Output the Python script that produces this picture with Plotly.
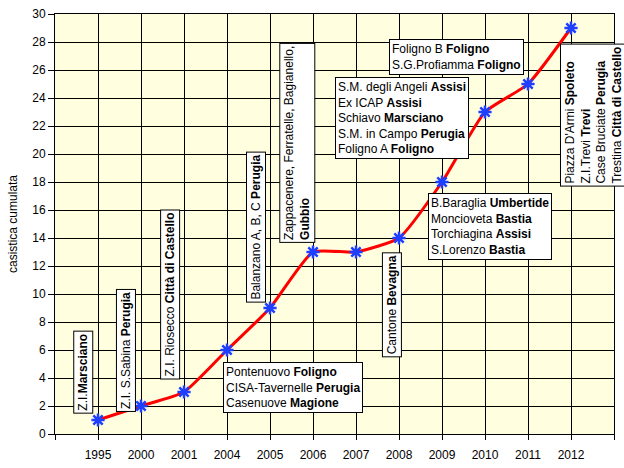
import plotly.graph_objects as go

years = ["1995", "2000", "2001", "2004", "2005", "2006", "2007", "2008", "2009", "2010", "2011", "2012"]
cumulative = [1, 2, 3, 6, 9, 13, 13, 14, 18, 23, 25, 29]

labels = [
    "Z.I.<b>Marsciano</b>",
    "Z.I. S.Sabina <b>Perugia</b>",
    "Z.I. Riosecco <b>Città di Castello</b>",
    "Balanzano A, B, C <b>Perugia</b>",
    "Zappacenere, Ferratelle, Bagianello,<br><b>Gubbio</b>",
    "Pontenuovo <b>Foligno</b><br>CISA-Tavernelle <b>Perugia</b><br>Casenuove <b>Magione</b>",
    "Cantone <b>Bevagna</b>",
    "S.M. degli Angeli <b>Assisi</b><br>Ex ICAP <b>Assisi</b><br>Schiavo <b>Marsciano</b><br>S.M. in Campo <b>Perugia</b><br>Foligno A <b>Foligno</b>",
    "Foligno B <b>Foligno</b><br>S.G.Profiamma <b>Foligno</b>",
    "B.Baraglia <b>Umbertide</b><br>Moncioveta <b>Bastia</b><br>Torchiagina <b>Assisi</b><br>S.Lorenzo <b>Bastia</b>",
    "Piazza D'Armi <b>Spoleto</b><br>Z.I.Trevi <b>Trevi</b><br>Case Bruciate <b>Perugia</b><br>Trestina <b>Città di Castello</b>",
]
# label placement (x in category index, y in data units, rotation)
label_pos = [
    (-0.35, 4.45, -90),
    (0.65, 6.0, -90),
    (1.67, 9.95, -90),
    (3.67, 14.8, -90),
    (4.63, 20.8, -90),
    (4.53, 3.3, 0),
    (6.84, 9.2, -90),
    (7.07, 22.6, 0),
    (8.33, 26.9, 0),
    (9.12, 14.8, 0),
    (11.53, 22.8, -90),
]

FONT = "Arial, Liberation Sans, sans-serif"
idx = list(range(len(years)))

fig = go.Figure()
fig.add_trace(go.Scatter(
    x=idx, y=cumulative, mode="lines+markers",
    line=dict(color="#FF0000", width=3, shape="spline", smoothing=0.5),
    marker=dict(symbol="asterisk-open", size=11, color="#1F3FFF",
                line=dict(color="#1F3FFF", width=2.5)),
    showlegend=False, hoverinfo="skip",
))

for txt, (ax, ay, ang) in zip(labels, label_pos):
    fig.add_annotation(
        x=ax, y=ay, xref="x", yref="y", text=txt, showarrow=False,
        textangle=ang, align="left", xanchor="center", yanchor="middle",
        font=dict(family=FONT, size=12, color="black"),
        bgcolor="white", bordercolor="black", borderwidth=1, borderpad=2,
    )

tickvals = [-1] + idx + [len(years)]
ticktext = [""] + years + [""]

fig.update_layout(
    width=624, height=468,
    margin=dict(l=55, r=10, t=14, b=34),
    paper_bgcolor="white", plot_bgcolor="#FFFFE0",
    font=dict(family=FONT, size=12, color="black"),
    xaxis=dict(
        range=[-1, len(years)], tickvals=tickvals, ticktext=ticktext,
        showgrid=True, gridcolor="black", gridwidth=1,
        showline=True, linecolor="black", linewidth=1, mirror=True,
        ticks="outside", ticklen=5, tickcolor="black",
        ticklabelstandoff=5, zeroline=False, automargin=False,
        tickfont=dict(family=FONT, size=12),
    ),
    yaxis=dict(
        range=[0, 30], dtick=2, tick0=0, automargin=False,
        showgrid=True, gridcolor="black", gridwidth=1,
        showline=True, linecolor="black", linewidth=1, mirror=True,
        ticks="outside", ticklen=6, tickcolor="black", zeroline=False,
        tickfont=dict(family=FONT, size=12),
        title=dict(text="casistica cumulata", font=dict(family=FONT, size=12), standoff=12),
    ),
)

fig.write_html("out.html")
